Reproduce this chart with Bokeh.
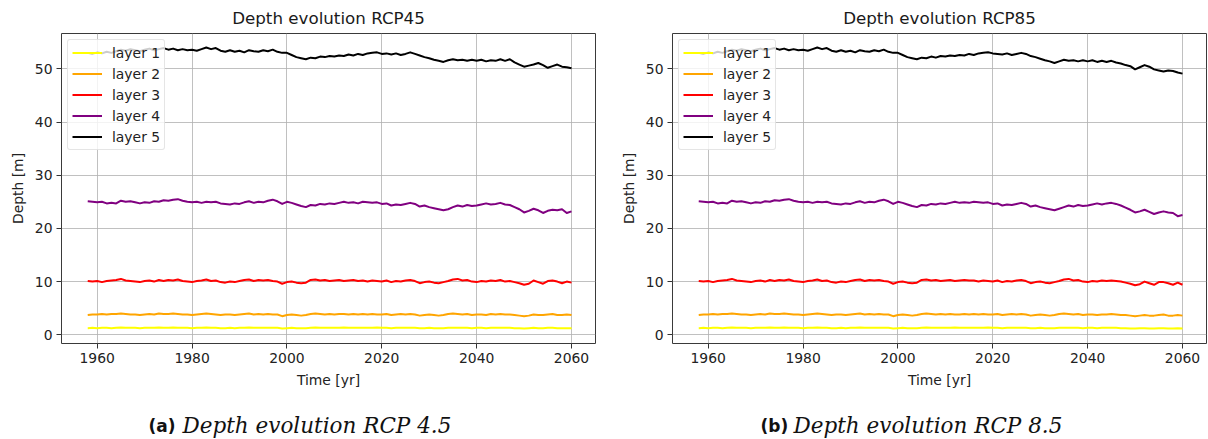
from bokeh.plotting import figure
from bokeh.models import FixedTicker, Range1d, Label
from bokeh.layouts import row, column
from bokeh.embed import file_html
from bokeh.resources import INLINE

# ---------------- data ----------------
years_hist = list(range(1958, 2006))
years_fut = list(range(2006, 2061))

layer5_hist = [53.0, 52.8, 53.1, 52.9, 53.2, 53.0, 53.3, 53.6, 53.4, 53.7,
               53.5, 53.3, 53.6, 53.8, 53.5, 53.7, 53.9, 53.6, 53.8, 53.5,
               53.7, 53.5, 53.6, 53.4, 53.7, 54.0, 53.7, 53.9, 53.4, 53.2,
               53.5, 53.2, 53.4, 53.1, 53.5, 53.3, 53.2, 53.5, 53.3, 53.6,
               53.2, 53.0, 53.0, 52.6, 52.2, 52.0, 51.8, 52.1]
layer5_rcp45 = [52.0, 52.3, 52.2, 52.4, 52.3, 52.5, 52.4, 52.7, 52.5, 52.8,
                52.6, 52.9, 53.0, 53.1, 52.8, 52.9, 52.7, 52.9, 52.6, 52.8,
                53.1, 52.8, 52.5, 52.2, 52.0, 51.7, 51.5, 51.3, 51.6, 51.8,
                51.6, 51.7, 51.5, 51.7, 51.5, 51.7, 51.4, 51.6, 51.5, 51.8,
                51.5, 51.8, 51.2, 50.8, 50.4, 50.6, 50.8, 51.1, 50.7, 50.2,
                50.5, 50.8, 50.4, 50.3, 50.1]
layer5_rcp85 = [52.0, 52.3, 52.1, 52.4, 52.3, 52.5, 52.4, 52.6, 52.5, 52.8,
                52.6, 52.9, 53.0, 53.1, 52.9, 52.8, 52.7, 52.9, 52.6, 52.8,
                53.0, 52.8, 52.4, 52.2, 51.9, 51.6, 51.4, 51.1, 51.4, 51.7,
                51.5, 51.6, 51.4, 51.6, 51.4, 51.6, 51.3, 51.5, 51.3, 51.5,
                51.2, 51.0, 50.7, 50.5, 49.9, 50.3, 50.7, 50.4, 49.9, 49.7,
                49.5, 49.7, 49.6, 49.3, 49.1]

layer4_hist = [25.1, 25.0, 24.9, 25.0, 24.7, 24.8, 24.7, 25.2, 25.0, 25.1,
               24.9, 24.7, 24.9, 24.8, 25.1, 25.0, 25.3, 25.2, 25.4, 25.5,
               25.2, 25.0, 24.9, 25.0, 24.8, 25.0, 24.9, 25.0, 24.7, 24.6,
               24.5, 24.7, 24.6, 24.9, 25.1, 24.8, 25.0, 24.9, 25.2, 25.4,
               25.1, 24.6, 25.0, 24.8, 24.5, 24.2, 24.0, 24.4]
layer4_rcp45 = [24.3, 24.6, 24.5, 24.7, 24.6, 24.8, 25.0, 24.8, 24.9, 24.7,
                25.0, 24.9, 24.8, 24.9, 24.6, 24.7, 24.3, 24.5, 24.4, 24.6,
                24.8, 24.6, 24.1, 24.3, 24.0, 23.8, 23.6, 23.4, 23.6, 24.0,
                24.3, 24.1, 24.4, 24.2, 24.3, 24.5, 24.7, 24.5, 24.6, 24.8,
                24.5, 24.4, 24.0, 23.6, 23.0, 23.3, 23.7, 23.4, 22.9, 23.3,
                23.5, 23.4, 23.6, 22.9, 23.2]
layer4_rcp85 = [24.3, 24.6, 24.5, 24.7, 24.6, 24.8, 25.0, 24.8, 24.9, 24.8,
                25.0, 24.9, 24.8, 24.9, 24.6, 24.7, 24.3, 24.5, 24.4, 24.6,
                24.8, 24.6, 24.1, 24.3, 24.0, 23.8, 23.6, 23.4, 23.7, 24.0,
                24.3, 24.1, 24.4, 24.2, 24.3, 24.5, 24.7, 24.5, 24.7, 24.8,
                24.6, 24.3, 23.9, 23.5, 23.0, 23.2, 23.5, 23.1, 22.7, 23.0,
                23.2, 23.0, 22.9, 22.3, 22.5]

layer3_hist = [10.1, 10.0, 10.1, 9.9, 10.1, 10.2, 10.3, 10.5, 10.2, 10.1,
               10.0, 9.9, 10.1, 10.2, 10.0, 10.3, 10.1, 10.3, 10.2, 10.4,
               10.1, 10.0, 9.9, 10.1, 10.2, 10.4, 10.1, 10.2, 9.9, 9.8,
               10.0, 9.9, 10.1, 10.3, 10.4, 10.1, 10.3, 10.2, 10.3, 10.1,
               10.0, 9.6, 9.9, 10.0, 9.8, 9.7, 9.8, 10.3]
layer3_rcp45 = [10.4, 10.2, 10.3, 10.1, 10.2, 10.3, 10.1, 10.2, 10.3, 10.1,
                10.2, 10.0, 10.2, 10.1, 10.0, 10.2, 9.9, 10.1, 10.0, 10.2,
                10.3, 10.1, 9.7, 9.9, 10.0, 9.8, 9.7, 9.9, 10.1, 10.4,
                10.5, 10.2, 10.3, 10.0, 9.9, 10.1, 10.0, 10.2, 10.1, 10.3,
                10.0, 10.1, 9.9, 9.7, 9.4, 9.6, 10.2, 9.9, 9.6, 10.1,
                10.2, 10.0, 9.7, 10.0, 9.8]
layer3_rcp85 = [10.4, 10.2, 10.3, 10.1, 10.2, 10.3, 10.1, 10.2, 10.3, 10.2,
                10.2, 10.0, 10.2, 10.1, 10.0, 10.2, 9.9, 10.1, 10.0, 10.2,
                10.3, 10.1, 9.7, 9.9, 10.0, 9.8, 9.7, 9.9, 10.1, 10.4,
                10.5, 10.2, 10.3, 10.0, 9.9, 10.1, 10.0, 10.2, 10.1, 10.2,
                10.1, 10.0, 9.8, 9.6, 9.3, 9.5, 10.0, 9.7, 9.4, 9.9,
                9.9, 9.7, 9.4, 9.8, 9.4]

layer2_hist = [3.7, 3.8, 3.8, 3.9, 3.8, 3.9, 3.9, 4.0, 3.9, 3.8,
               3.8, 3.7, 3.8, 3.9, 3.8, 4.0, 3.9, 3.9, 4.0, 3.9,
               3.8, 3.8, 3.7, 3.8, 3.9, 4.0, 3.9, 3.8, 3.7, 3.8,
               3.8, 3.7, 3.8, 3.9, 4.0, 3.8, 3.9, 3.8, 3.9, 3.8,
               3.8, 3.5, 3.7, 3.8, 3.7, 3.6, 3.7, 3.9]
layer2_rcp45 = [4.0, 3.9, 3.8, 3.9, 3.8, 3.9, 3.9, 3.8, 3.9, 3.8,
                3.9, 3.8, 3.9, 3.8, 3.8, 3.9, 3.7, 3.8, 3.9, 3.8,
                3.9, 3.8, 3.6, 3.7, 3.8, 3.7, 3.6, 3.7, 3.9, 4.0,
                3.9, 3.8, 3.9, 3.7, 3.8, 3.8, 3.7, 3.9, 3.8, 3.9,
                3.8, 3.8, 3.7, 3.6, 3.5, 3.6, 3.8, 3.7, 3.7, 3.8,
                3.9, 3.7, 3.7, 3.8, 3.7]
layer2_rcp85 = [4.0, 3.9, 3.8, 3.9, 3.8, 3.9, 3.8, 3.8, 3.9, 3.8,
                3.9, 3.8, 3.9, 3.8, 3.8, 3.9, 3.7, 3.8, 3.9, 3.8,
                3.9, 3.8, 3.6, 3.7, 3.8, 3.7, 3.6, 3.7, 3.9, 4.0,
                3.9, 3.8, 3.9, 3.7, 3.8, 3.8, 3.7, 3.8, 3.8, 3.9,
                3.8, 3.7, 3.7, 3.6, 3.5, 3.6, 3.7, 3.6, 3.6, 3.7,
                3.8, 3.6, 3.6, 3.7, 3.6]

layer1_hist = [1.25, 1.3, 1.25, 1.3, 1.3, 1.25, 1.3, 1.35, 1.3, 1.3,
               1.3, 1.25, 1.3, 1.3, 1.3, 1.35, 1.3, 1.3, 1.35, 1.3,
               1.3, 1.3, 1.25, 1.3, 1.3, 1.35, 1.3, 1.3, 1.25, 1.25,
               1.3, 1.25, 1.3, 1.3, 1.35, 1.3, 1.3, 1.3, 1.3, 1.3,
               1.3, 1.2, 1.25, 1.3, 1.25, 1.25, 1.25, 1.3]
layer1_rcp45 = [1.35, 1.3, 1.3, 1.3, 1.3, 1.3, 1.35, 1.3, 1.3, 1.3,
                1.3, 1.3, 1.3, 1.35, 1.3, 1.3, 1.25, 1.3, 1.3, 1.3,
                1.3, 1.3, 1.25, 1.25, 1.3, 1.25, 1.25, 1.25, 1.3, 1.3,
                1.3, 1.3, 1.3, 1.25, 1.3, 1.3, 1.25, 1.3, 1.3, 1.3,
                1.3, 1.3, 1.25, 1.25, 1.2, 1.25, 1.3, 1.25, 1.25, 1.3,
                1.3, 1.25, 1.25, 1.25, 1.25]
layer1_rcp85 = [1.35, 1.3, 1.3, 1.3, 1.3, 1.3, 1.35, 1.3, 1.3, 1.3,
                1.3, 1.3, 1.3, 1.35, 1.3, 1.3, 1.25, 1.3, 1.3, 1.3,
                1.3, 1.3, 1.25, 1.25, 1.3, 1.25, 1.25, 1.25, 1.3, 1.3,
                1.3, 1.3, 1.3, 1.25, 1.3, 1.3, 1.25, 1.3, 1.3, 1.3,
                1.3, 1.25, 1.25, 1.2, 1.2, 1.25, 1.25, 1.2, 1.2, 1.25,
                1.25, 1.2, 1.2, 1.25, 1.2]

layer_names = ["layer 1", "layer 2", "layer 3", "layer 4", "layer 5"]
layer_colors = ["#ffff00", "#ffa500", "#ff0000", "#800080", "#000000"]
x_ticks = [1960, 1980, 2000, 2020, 2040, 2060]
y_ticks = [0, 10, 20, 30, 40, 50]

titles = ["Depth evolution RCP45", "Depth evolution RCP85"]
caption_tags = ["(a)", "(b)"]
caption_texts = ["Depth evolution RCP 4.5", "Depth evolution RCP 8.5"]

series_rcp45 = [layer1_hist + layer1_rcp45, layer2_hist + layer2_rcp45,
                layer3_hist + layer3_rcp45, layer4_hist + layer4_rcp45,
                layer5_hist + layer5_rcp45]
series_rcp85 = [layer1_hist + layer1_rcp85, layer2_hist + layer2_rcp85,
                layer3_hist + layer3_rcp85, layer4_hist + layer4_rcp85,
                layer5_hist + layer5_rcp85]
years = years_hist + years_fut

SANS = "DejaVu Sans"
PLOT_H = 400
CAP_H = 39


def make_fig(title, series, width, left, right):
    p = figure(width=width, height=PLOT_H, output_backend="svg", toolbar_location=None,
               x_range=Range1d(1952.47, 2065.06), y_range=Range1d(-1.64, 56.64),
               min_border_left=left, min_border_right=right,
               min_border_top=33, min_border_bottom=PLOT_H - 343)
    p.background_fill_color = "white"
    p.border_fill_color = "white"
    p.outline_line_color = "#3a3a3a"
    p.outline_line_width = 1

    p.title.text = title
    p.title.align = "center"
    p.title.text_font = SANS
    p.title.text_font_size = "16.7px"
    p.title.text_font_style = "normal"
    p.title.text_color = "#1a1a1a"
    p.title.standoff = 11

    p.xaxis.ticker = FixedTicker(ticks=x_ticks)
    p.yaxis.ticker = FixedTicker(ticks=y_ticks)
    for ax in (p.xaxis[0], p.yaxis[0]):
        ax.axis_line_color = None
        ax.major_tick_out = 5
        ax.major_tick_in = 0
        ax.major_tick_line_color = "#333333"
        ax.minor_tick_line_color = None
        ax.major_label_text_font = SANS
        ax.major_label_text_font_size = "13.9px"
        ax.major_label_text_color = "#222222"
        ax.major_label_standoff = 4
        ax.axis_label_text_font = SANS
        ax.axis_label_text_font_size = "13.9px"
        ax.axis_label_text_font_style = "normal"
        ax.axis_label_text_color = "#222222"
        ax.axis_label_standoff = 6
    p.xaxis.axis_label = "Time [yr]"
    p.yaxis.axis_label = "Depth [m]"

    p.grid.grid_line_color = "#b0b0b0"
    p.grid.grid_line_width = 1
    p.grid.grid_line_alpha = 0.8

    for name, color, vals in zip(layer_names, layer_colors, series):
        p.line(years, vals, line_color=color, line_width=2, line_join="round",
               legend_label=name)

    lg = p.legend[0]
    lg.location = "top_left"
    lg.margin = 6
    lg.padding = 4
    lg.spacing = 4
    lg.glyph_width = 30
    lg.glyph_height = 17
    lg.label_height = 17
    lg.label_standoff = 10
    lg.label_text_font = SANS
    lg.label_text_font_size = "13.9px"
    lg.label_text_color = "#222222"
    lg.background_fill_color = "white"
    lg.background_fill_alpha = 0.8
    lg.border_line_color = "#cccccc"
    lg.border_line_width = 1
    lg.border_radius = 3
    return p


def make_caption(width, tag_x, text_x, tag, text):
    c = figure(width=width, height=CAP_H, output_backend="svg", toolbar_location=None,
               x_range=Range1d(0, width), y_range=Range1d(0, CAP_H),
               x_axis_type=None, y_axis_type=None, min_border=0)
    c.outline_line_color = None
    c.background_fill_color = "white"
    c.border_fill_color = "white"
    c.add_layout(Label(x=tag_x, y=14, text=tag,
                       text_font=SANS, text_font_style="bold", text_font_size="17px",
                       text_color="#111111", text_baseline="alphabetic", text_align="left"))
    c.add_layout(Label(x=text_x, y=14, text=text,
                       text_font="DejaVu Serif", text_font_style="italic", text_font_size="21.5px",
                       text_color="#111111", text_baseline="alphabetic", text_align="left"))
    return c


p1 = make_fig(titles[0], series_rcp45, 612, 61, 17)
p2 = make_fig(titles[1], series_rcp85, 596, 60, 2)
c1 = make_caption(612, 148, 182, caption_tags[0], caption_texts[0])
c2 = make_caption(596, 760 - 612, 793 - 612, caption_tags[1], caption_texts[1])

layout = column(row(p1, p2, spacing=0), row(c1, c2, spacing=0), spacing=0)
open("out.html", "w").write(file_html(layout, INLINE))
